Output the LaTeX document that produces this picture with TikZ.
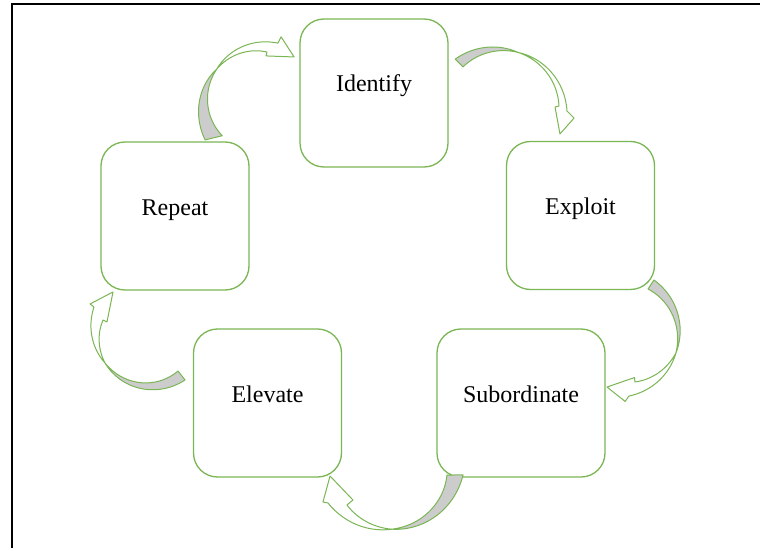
\documentclass[tikz,border=0pt]{standalone}
\usepackage{fontspec}
\setmainfont{Liberation Serif}
\definecolor{grn}{RGB}{122,182,84}
\definecolor{ggray}{RGB}{204,204,204}
\newcommand\arrowpar[9]{\def\qx{#1}\def\qy{#2}\def\qao{#3}\def\qro{#4}\def\qai{#5}\def\qri{#6}\def\qam{#7}\def\qrm{#8}\def\qaho{#9}}
\newcommand\arrowparb[9]{\def\qrho{#1}\def\qahi{#2}\def\qrhi{#3}\def\qabo{#4}\def\qrbo{#5}\def\qabi{#6}\def\qrbi{#7}\def\qat{#8}\def\qrt{#9}}
\newcommand\drawarrow{%
 \coordinate (hbo) at ({\qx+\qrbo*cos(\qabo)},{\qy+\qrbo*sin(\qabo)});
 \coordinate (htip) at ({\qx+\qrt*cos(\qat)},{\qy+\qrt*sin(\qat)});
 \coordinate (hbi) at ({\qx+\qrbi*cos(\qabi)},{\qy+\qrbi*sin(\qabi)});
 \filldraw[arrline, fill=ggray]
   plot[domain=\qao:\qam,samples=30,variable=\q]({\qx+ip(\q,\qao,\qam,\qro,\qrm)*cos(\q)},{\qy+ip(\q,\qao,\qam,\qro,\qrm)*sin(\q)})
   -- plot[domain=\qam:\qai,samples=30,variable=\q]({\qx+ip(\q,\qam,\qai,\qrm,\qri)*cos(\q)},{\qy+ip(\q,\qam,\qai,\qrm,\qri)*sin(\q)})
   -- cycle;
 \filldraw[arrline, fill=white]
   plot[domain=\qam:\qaho,samples=30,variable=\q]({\qx+ip(\q,\qam,\qaho,\qrm,\qrho)*cos(\q)},{\qy+ip(\q,\qam,\qaho,\qrm,\qrho)*sin(\q)})
   -- (hbo) -- (htip) -- (hbi)
   -- plot[domain=\qahi:\qam,samples=30,variable=\q]({\qx+ip(\q,\qahi,\qam,\qrhi,\qrm)*cos(\q)},{\qy+ip(\q,\qahi,\qam,\qrhi,\qrm)*sin(\q)})
   -- cycle;
}
\begin{document}
\begin{tikzpicture}[x=1pt,y=-1pt,
  declare function={ip(\t,\a,\b,\ra,\rb)=\ra+(\rb-\ra)*(\t-\a)/(\b-\a);},
  box/.style={draw=grn, line width=1.3pt, fill=white, rounded corners=24pt, minimum width=148pt, minimum height=148pt, inner sep=0pt},
  lbl/.style={anchor=base, font=\fontsize{24}{28}\selectfont, text=black, inner sep=0pt},
  arrline/.style={draw=grn, line width=1pt, line join=round}]
\useasboundingbox (0,0) rectangle (760,548);
\fill[white] (0,0) rectangle (760,548);
\draw[line width=2pt] (12,548) -- (12,3.7) -- (765,3.7);
% boxes
\node[box] (identify) at (374,93) {};
\node[box] (exploit) at (580.5,215.5) {};
\node[box, minimum width=168pt] (subord) at (521,403) {};
\node[box] (elevate) at (267.5,403) {};
\node[box] (repeatb) at (175,216) {};
\node[lbl] (tid) at ([yshift=1pt]identify.center) {Identify};
\node[lbl] (tex) at ([yshift=1pt]exploit.center) {Exploit};
\node[lbl] (tsu) at ([yshift=1pt]subord.center) {Subordinate};
\node[lbl] (tel) at ([yshift=1pt]elevate.center) {Elevate};
\node[lbl] (tre) at ([yshift=1pt]repeatb.center) {Repeat};
% arrows
\arrowpar{260.6}{100.6}{144.7}{68}{137.5}{52}{215.8}{54}{286.8}
\arrowparb{60}{277.5}{49}{287.8}{67}{276.9}{45}{307.5}{55}
\drawarrow
\arrowpar{500.5}{109.8}{228.2}{68}{228.8}{57}{287.1}{60}{361}
\arrowparb{66.5}{356.3}{58.6}{366.4}{74}{357.1}{54.6}{382.1}{64.2}
\drawarrow
\arrowpar{619.1}{333.7}{303}{64}{302.9}{53.2}{378.7}{60}{441}
\arrowparb{63.1}{431.8}{50.8}{444.9}{68}{430.7}{46.5}{462.8}{54.7}
\drawarrow
\arrowpar{390.4}{463.2}{9.2}{73.6}{11.8}{57.8}{88.9}{66}{147.5}
\arrowparb{74}{136.1}{60.3}{150.1}{77.8}{135.5}{52.5}{168}{61.7}
\drawarrow
\arrowpar{148.8}{332.4}{52.7}{59.8}{52.9}{48.4}{145.1}{53.4}{204.9}
\arrowparb{60.4}{195.1}{47.4}{205.8}{65.3}{194}{43.1}{228.5}{54}
\drawarrow
\end{tikzpicture}
\end{document}
